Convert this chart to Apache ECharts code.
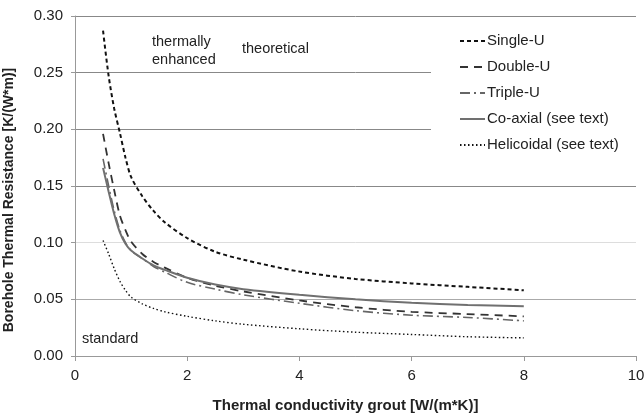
<!DOCTYPE html>
<html><head><meta charset="utf-8">
<script src="https://cdn.jsdelivr.net/npm/echarts@6/dist/echarts.min.js"></script>
<style>html,body{margin:0;padding:0;background:#fff}#c{width:644px;height:414px}</style>
</head><body><div id="c"></div>
<script>
const xValues   = [0.5, 0.6, 0.7, 0.8, 0.9, 1.0, 1.2, 1.4, 1.6, 2, 2.5, 3, 4, 5, 6, 7, 8];
const singleU   = [0.287, 0.247, 0.218, 0.197, 0.175, 0.158, 0.141, 0.128, 0.118, 0.104, 0.092, 0.085, 0.0745, 0.068, 0.064, 0.061, 0.058];
const doubleU   = [0.196, 0.170, 0.146, 0.124, 0.111, 0.101, 0.090, 0.083, 0.078, 0.069, 0.062, 0.057, 0.049, 0.043, 0.039, 0.037, 0.035];
const tripleU   = [0.174, 0.150, 0.128, 0.111, 0.100, 0.093, 0.086, 0.079, 0.074, 0.065, 0.059, 0.054, 0.0465, 0.040, 0.036, 0.034, 0.031];
const coAxial   = [0.166, 0.145, 0.125, 0.109, 0.099, 0.093, 0.086, 0.080, 0.076, 0.069, 0.063, 0.059, 0.054, 0.050, 0.047, 0.045, 0.044];
const helicoidal= [0.102, 0.090, 0.077, 0.066, 0.058, 0.052, 0.046, 0.042, 0.039, 0.035, 0.031, 0.028, 0.024, 0.021, 0.019, 0.017, 0.016];
const seriesNames = ['Single-U', 'Double-U', 'Triple-U', 'Co-axial (see text)', 'Helicoidal (see text)'];
const yTicks = [0.00, 0.05, 0.10, 0.15, 0.20, 0.25, 0.30];
const xTicks = [0, 2, 4, 6, 8, 10];

const pair = arr => xValues.map((x, i) => [x, arr[i]]);
const font = 'Liberation Sans, Arial, sans-serif';
const styles = [
  {color: '#111', width: 2, type: [4, 3]},
  {color: '#333', width: 1.8, type: [8, 6]},
  {color: '#666', width: 1.6, type: [10, 4, 2, 4]},
  {color: '#707070', width: 2, type: 'solid'},
  {color: '#111', width: 1.4, type: [1.5, 2.5]}
];
const dataSets = [singleU, doubleU, tripleU, coAxial, helicoidal];

const chart = echarts.init(document.getElementById('c'), null, {renderer: 'canvas'});
chart.setOption({
  animation: false,
  backgroundColor: '#fff',
  grid: {left: 75, right: 8, top: 16, bottom: 58, containLabel: false, outerBoundsMode: 'none'},
  xAxis: {
    type: 'value', min: xTicks[0], max: xTicks[xTicks.length - 1], interval: 2,
    name: 'Thermal conductivity grout [W/(m*K)]',
    nameLocation: 'middle', nameGap: 42,
    nameTextStyle: {fontFamily: font, fontSize: 15, fontWeight: 'bold', color: '#222', padding: [0, 20, 0, 0]},
    axisLine: {show: true, lineStyle: {color: '#999', width: 1}},
    axisTick: {show: true, length: 5, lineStyle: {color: '#999'}},
    axisLabel: {fontFamily: font, fontSize: 15, color: '#222', margin: 12},
    splitLine: {show: false}
  },
  yAxis: {
    type: 'value', min: yTicks[0], max: yTicks[yTicks.length - 1], interval: 0.05,
    name: 'Borehole Thermal Resistance [K/(W*m)]',
    nameLocation: 'middle', nameGap: 59,
    nameTextStyle: {fontFamily: font, fontSize: 14, fontWeight: 'bold', color: '#222', padding: [0, 28, 0, 0]},
    axisLine: {show: true, lineStyle: {color: '#999', width: 1}},
    axisTick: {show: true, length: 4, lineStyle: {color: '#999'}},
    axisLabel: {fontFamily: font, fontSize: 15, color: '#222', margin: 12,
      formatter: v => v.toFixed(2)},
    splitLine: {show: true, lineStyle: {color: ['#999', '#aaa', '#ddd', '#888', '#888', '#888', '#888'], width: 1}}
  },
  legend: {
    orient: 'vertical', left: 431, top: 26,
    padding: [7, 19, 9, 28],
    backgroundColor: '#fff',
    itemWidth: 25, itemHeight: 14, itemGap: 10,
    itemStyle: {opacity: 0},
    textStyle: {fontFamily: font, fontSize: 15, color: '#222', lineHeight: 16, padding: [0, 0, 0, -3]},
    data: seriesNames
  },
  graphic: [
    {type: 'text', left: 152, top: 33, style: {text: 'thermally\nenhanced', font: '14.5px Liberation Sans, Arial, sans-serif', fill: '#222', lineHeight: 18}},
    {type: 'text', left: 242, top: 41, style: {text: 'theoretical', font: '14.5px Liberation Sans, Arial, sans-serif', fill: '#222'}},
    {type: 'text', left: 82, top: 331, style: {text: 'standard', font: '14.5px Liberation Sans, Arial, sans-serif', fill: '#222'}}
  ],
  series: dataSets.map((d, i) => ({
    name: seriesNames[i], type: 'line', data: pair(d), smooth: 0.3,
    symbol: 'none', showSymbol: false,
    lineStyle: styles[i], itemStyle: {color: styles[i].color}
  }))
});
</script></body></html>
